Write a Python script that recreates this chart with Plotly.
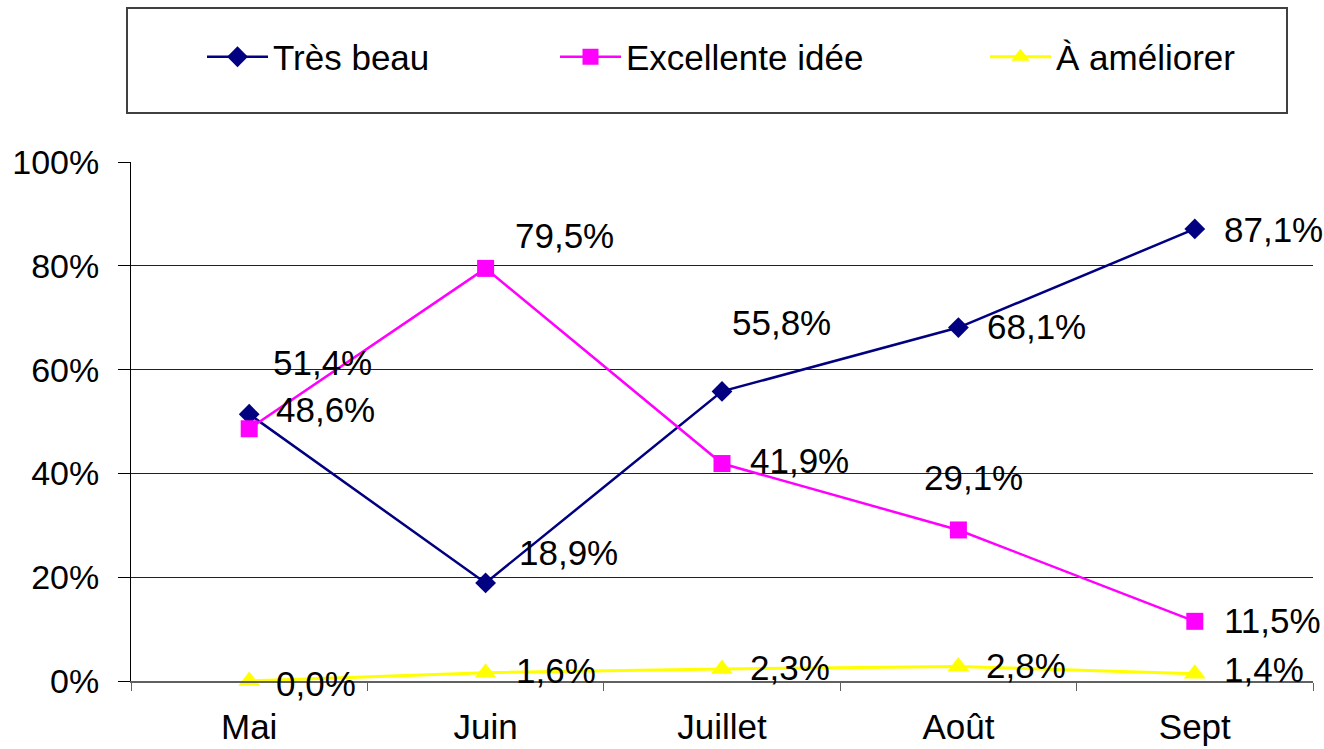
import plotly.graph_objects as go

# ---- data ----
months = ["Mai", "Juin", "Juillet", "Août", "Sept"]
tres_beau = [51.4, 18.9, 55.8, 68.1, 87.1]
excellente_idee = [48.6, 79.5, 41.9, 29.1, 11.5]
a_ameliorer = [0.0, 1.6, 2.3, 2.8, 1.4]
series_names = ["Très beau", "Excellente idée", "À améliorer"]
y_ticks = [0, 20, 40, 60, 80, 100]
y_tick_labels = [f"{v}%" for v in y_ticks]

# ---- styling ----
W, H = 1324, 749
L, R, T, B = 131, 11, 162, 68
FONT = "Liberation Sans, Arial, sans-serif"
colors = ["#000080", "#FF00FF", "#FFFF00"]
symbols = ["diamond", "square", "triangle-up"]
msizes = [16, 17, 19]
lwidths = [2.5, 2.5, 3]

# label offsets (px, from marker centre: left edge of text, vertical centre; +down)
label_offsets = [
    [(22, -52), (31, -30), (8, -69), (27, -1), (27, 1)],
    [(25, -19), (27, -33), (26, -3), (-36, -52), (27, -1)],
    [(25, 2), (28, -2), (26, -2), (26, -1), (27, -4)],
]
legend_symbol_px = [220, 573, 1003]

pw, ph = W - L - R, H - T - B


def px2paper_x(px):
    return (px - L) / pw


def px2paper_y(py):
    return (H - B - py) / ph


fig = go.Figure()
all_series = [tres_beau, excellente_idee, a_ameliorer]
for i, (name, vals) in enumerate(zip(series_names, all_series)):
    fig.add_trace(go.Scatter(
        x=months, y=vals, name=name, mode="lines+markers",
        line=dict(color=colors[i], width=lwidths[i]),
        marker=dict(symbol=symbols[i], size=msizes[i], color=colors[i]),
        legend="legend" if i == 0 else f"legend{i+1}",
        showlegend=True,
        cliponaxis=False,
    ))
    for j, v in enumerate(vals):
        dx, dy = label_offsets[i][j]
        fig.add_annotation(
            x=months[j], y=v, text=f"{v:.1f}%".replace(".", ","),
            showarrow=False, xanchor="left", yanchor="middle",
            xshift=dx, yshift=-dy,
            font=dict(family=FONT, size=35, color="black"),
        )

legend_common = dict(
    orientation="h", yanchor="middle", xanchor="left", visible=True,
    y=px2paper_y(57), font=dict(family=FONT, size=35, color="black"),
    bgcolor="rgba(0,0,0,0)", borderwidth=0, itemwidth=61,
)
fig.update_layout(
    showlegend=True,
    legend=dict(x=px2paper_x(legend_symbol_px[0] - 18), **legend_common),
    legend2=dict(x=px2paper_x(legend_symbol_px[1] - 18), **legend_common),
    legend3=dict(x=px2paper_x(legend_symbol_px[2] - 18), **legend_common),
)

fig.add_shape(
    type="rect", xref="paper", yref="paper",
    x0=px2paper_x(127), x1=px2paper_x(1287),
    y0=px2paper_y(113), y1=px2paper_y(8),
    line=dict(color="#404040", width=2), fillcolor="rgba(0,0,0,0)",
)

fig.update_xaxes(
    type="category", range=[-0.5, 4.5], tickson="boundaries",
    ticks="outside", ticklen=8, tickcolor="#606060",
    showline=True, linecolor="#606060", linewidth=1.5,
    showgrid=False, tickfont=dict(family=FONT, size=35, color="black"),
    ticklabelstandoff=14,
)
fig.update_yaxes(
    range=[0, 100], tickmode="array", tickvals=y_ticks, ticktext=y_tick_labels,
    ticks="outside", ticklen=12, tickcolor="black",
    showline=True, linecolor="black", linewidth=1,
    showgrid=True, gridcolor="#202020", gridwidth=1, zeroline=False,
    tickfont=dict(family=FONT, size=34, color="black"),
    ticklabelstandoff=12,
)
fig.update_layout(
    width=W, height=H, margin=dict(l=L, r=R, t=T, b=B, autoexpand=False),
    plot_bgcolor="white", paper_bgcolor="white",
    font=dict(family=FONT, color="black"),
)
fig.write_html("out.html", config={"displayModeBar": False},
               post_script="document.body.style.margin='0';")
